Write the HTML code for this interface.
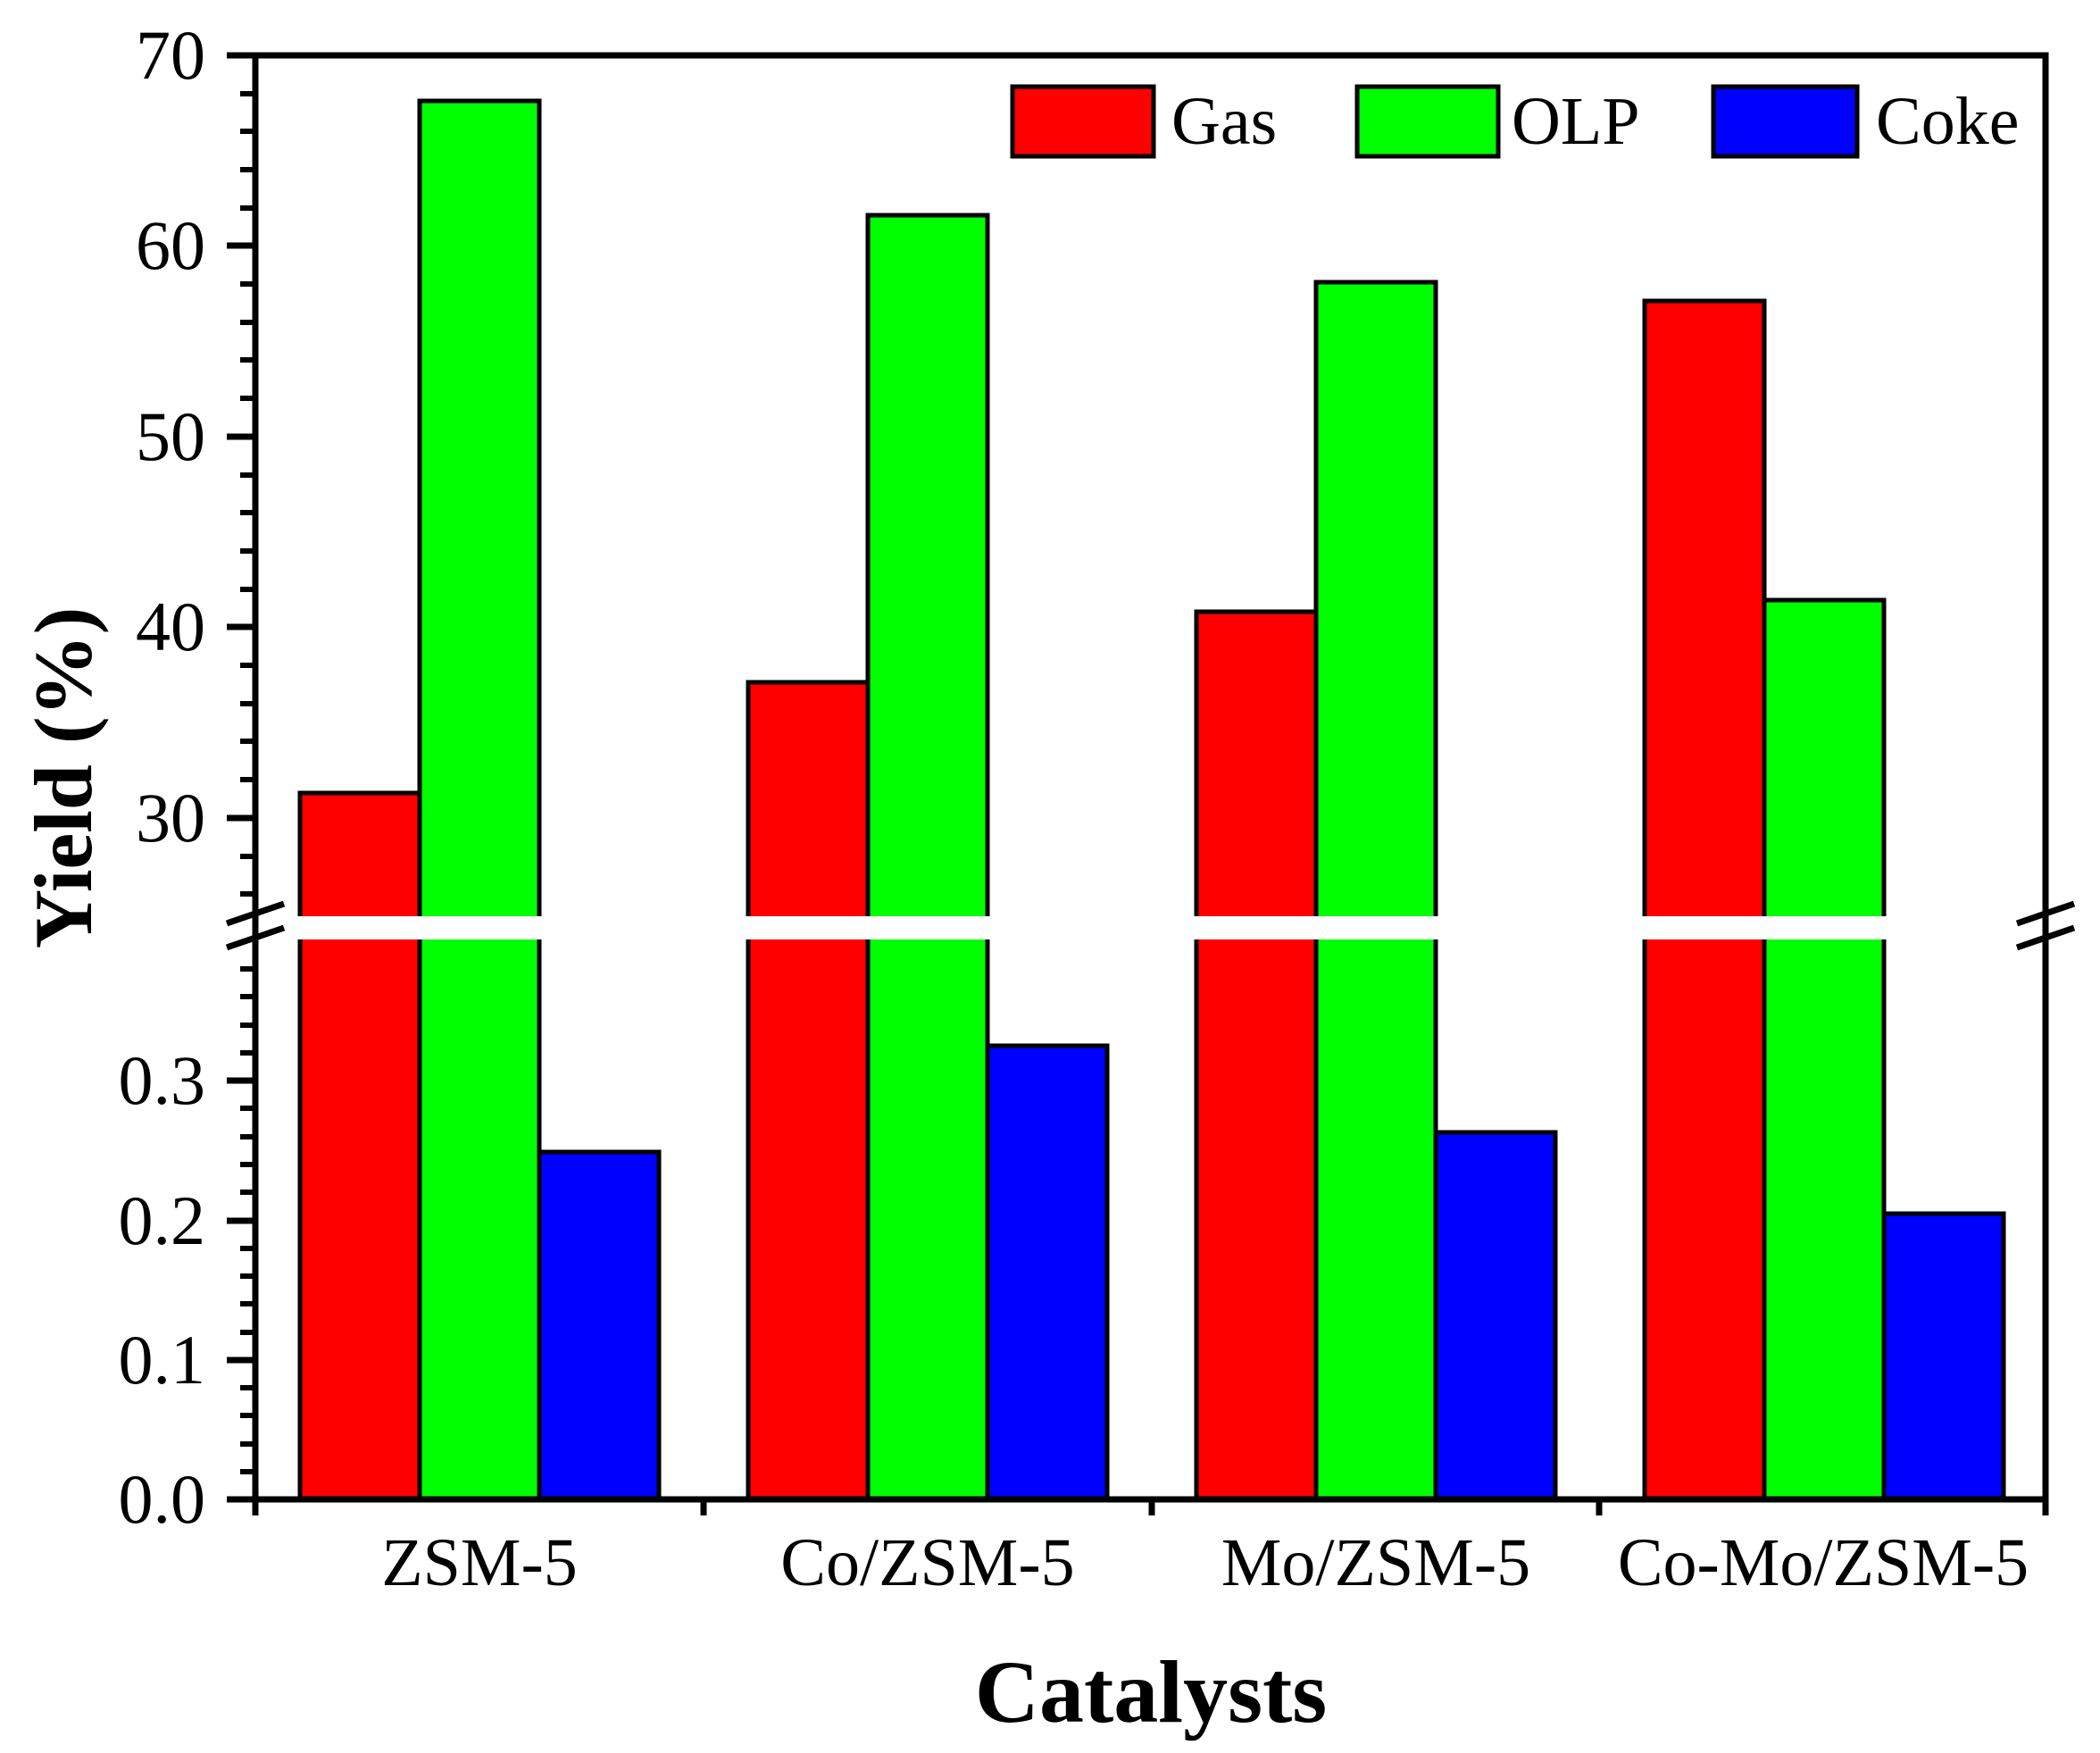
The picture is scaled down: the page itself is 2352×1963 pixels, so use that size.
<!DOCTYPE html>
<html><head><meta charset="utf-8"><style>html,body{margin:0;padding:0;background:#fff}svg{display:block}</style></head>
<body>
<svg width="2352" height="1963" viewBox="0 0 2352 1963" xmlns="http://www.w3.org/2000/svg" font-family="Liberation Serif, serif">
<rect width="2352" height="1963" fill="#fff"/>
<g stroke="#000" stroke-width="5">
<rect x="336" y="888" width="134" height="791" fill="#f00"/>
<rect x="470" y="113" width="134" height="1566" fill="#0f0"/>
<rect x="604" y="1290" width="134" height="389" fill="#00f"/>
<rect x="838" y="764" width="134" height="915" fill="#f00"/>
<rect x="972" y="241" width="134" height="1438" fill="#0f0"/>
<rect x="1106" y="1171" width="134" height="508" fill="#00f"/>
<rect x="1340" y="685" width="134" height="994" fill="#f00"/>
<rect x="1474" y="316" width="134" height="1363" fill="#0f0"/>
<rect x="1608" y="1268" width="134" height="411" fill="#00f"/>
<rect x="1842" y="337" width="134" height="1342" fill="#f00"/>
<rect x="1976" y="672" width="134" height="1007" fill="#0f0"/>
<rect x="2110" y="1359" width="134" height="320" fill="#00f"/>
</g>
<g fill="#fff">
<rect x="332" y="1026" width="276" height="26"/>
<rect x="834" y="1026" width="276" height="26"/>
<rect x="1336" y="1026" width="276" height="26"/>
<rect x="1838" y="1026" width="276" height="26"/>
</g>
<rect x="286" y="62" width="2005" height="1617" fill="none" stroke="#000" stroke-width="7"/>
<g stroke="#000" stroke-width="7">
<line x1="254" y1="1034" x2="318" y2="1012"/>
<line x1="254" y1="1061" x2="318" y2="1039"/>
<line x1="2259" y1="1034" x2="2323" y2="1012"/>
<line x1="2259" y1="1061" x2="2323" y2="1039"/>
</g>
<g stroke="#000" stroke-width="7">
<line x1="254" y1="62" x2="286" y2="62"/>
<line x1="254" y1="275" x2="286" y2="275"/>
<line x1="254" y1="489" x2="286" y2="489"/>
<line x1="254" y1="702" x2="286" y2="702"/>
<line x1="254" y1="916" x2="286" y2="916"/>
<line x1="254" y1="1210" x2="286" y2="1210"/>
<line x1="254" y1="1367" x2="286" y2="1367"/>
<line x1="254" y1="1523" x2="286" y2="1523"/>
<line x1="254" y1="1679" x2="286" y2="1679"/>
<line x1="286" y1="1679" x2="286" y2="1697"/>
<line x1="788" y1="1679" x2="788" y2="1697"/>
<line x1="1290" y1="1679" x2="1290" y2="1697"/>
<line x1="1791" y1="1679" x2="1791" y2="1697"/>
<line x1="2291" y1="1679" x2="2291" y2="1697"/>
</g>
<g stroke="#000" stroke-width="6">
<line x1="269" y1="105" x2="286" y2="105"/><line x1="269" y1="147" x2="286" y2="147"/><line x1="269" y1="190" x2="286" y2="190"/><line x1="269" y1="233" x2="286" y2="233"/>
<line x1="269" y1="318" x2="286" y2="318"/><line x1="269" y1="361" x2="286" y2="361"/><line x1="269" y1="403" x2="286" y2="403"/><line x1="269" y1="446" x2="286" y2="446"/>
<line x1="269" y1="532" x2="286" y2="532"/><line x1="269" y1="574" x2="286" y2="574"/><line x1="269" y1="617" x2="286" y2="617"/><line x1="269" y1="660" x2="286" y2="660"/>
<line x1="269" y1="745" x2="286" y2="745"/><line x1="269" y1="788" x2="286" y2="788"/><line x1="269" y1="830" x2="286" y2="830"/><line x1="269" y1="873" x2="286" y2="873"/>
<line x1="269" y1="959" x2="286" y2="959"/><line x1="269" y1="1001" x2="286" y2="1001"/>
<line x1="269" y1="1085" x2="286" y2="1085"/><line x1="269" y1="1116" x2="286" y2="1116"/><line x1="269" y1="1148" x2="286" y2="1148"/><line x1="269" y1="1179" x2="286" y2="1179"/>
<line x1="269" y1="1241" x2="286" y2="1241"/><line x1="269" y1="1273" x2="286" y2="1273"/><line x1="269" y1="1304" x2="286" y2="1304"/><line x1="269" y1="1335" x2="286" y2="1335"/>
<line x1="269" y1="1398" x2="286" y2="1398"/><line x1="269" y1="1429" x2="286" y2="1429"/><line x1="269" y1="1460" x2="286" y2="1460"/><line x1="269" y1="1492" x2="286" y2="1492"/>
<line x1="269" y1="1554" x2="286" y2="1554"/><line x1="269" y1="1585" x2="286" y2="1585"/><line x1="269" y1="1617" x2="286" y2="1617"/><line x1="269" y1="1648" x2="286" y2="1648"/>
</g>
<g font-size="78" text-anchor="end" fill="#000">
<text x="230" y="88">70</text>
<text x="230" y="301">60</text>
<text x="230" y="515">50</text>
<text x="230" y="728">40</text>
<text x="230" y="942">30</text>
<text x="230" y="1236">0.3</text>
<text x="230" y="1393">0.2</text>
<text x="230" y="1549">0.1</text>
<text x="230" y="1705">0.0</text>
</g>
<g font-size="76" text-anchor="middle" fill="#000">
<text x="537" y="1775">ZSM-5</text>
<text x="1039" y="1775">Co/ZSM-5</text>
<text x="1541" y="1775">Mo/ZSM-5</text>
<text x="2042" y="1775">Co-Mo/ZSM-5</text>
</g>
<text x="1289" y="1928" font-size="100" font-weight="bold" text-anchor="middle">Catalysts</text>
<text transform="translate(102,871) rotate(-90)" font-size="92" font-weight="bold" text-anchor="middle">Yield (%)</text>
<g stroke="#000" stroke-width="5">
<rect x="1134" y="97" width="158" height="78" fill="#f00"/>
<rect x="1520" y="97" width="158" height="78" fill="#0f0"/>
<rect x="1919" y="97" width="161" height="78" fill="#00f"/>
</g>
<g font-size="76" fill="#000">
<text x="1312" y="161">Gas</text>
<text x="1693" y="161">OLP</text>
<text x="2101" y="161">Coke</text>
</g>
</svg>
</body></html>
